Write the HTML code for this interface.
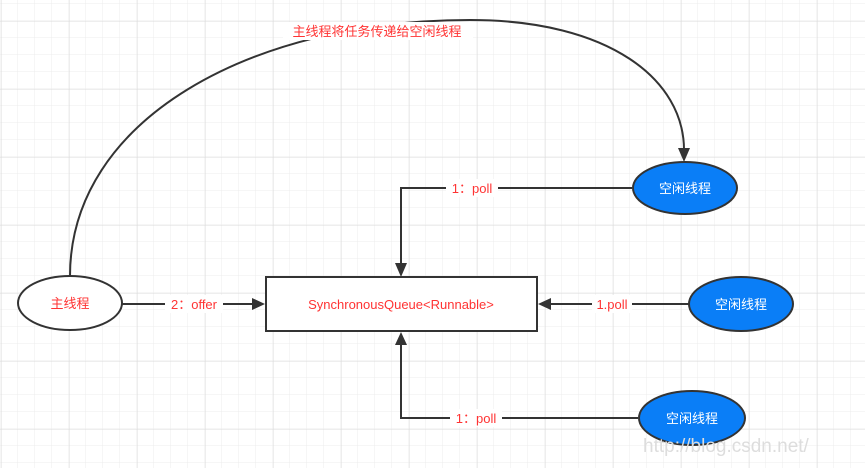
<!DOCTYPE html>
<html><head><meta charset="utf-8"><style>
html,body{margin:0;padding:0;background:#fff;}
svg{display:block;}
text{font-family:"Liberation Sans","Noto Sans CJK SC",sans-serif;}
</style></head><body>
<svg width="865" height="468" viewBox="0 0 865 468" xmlns="http://www.w3.org/2000/svg">
<defs>
<pattern id="g" x="1" y="4" width="17" height="17" patternUnits="userSpaceOnUse">
<path d="M17 0V17M0 17H17" stroke="#ececec" stroke-width="1" fill="none"/>
</pattern>
<pattern id="G" x="1" y="21" width="68" height="68" patternUnits="userSpaceOnUse">
<path d="M0 0V68M0 0H68" stroke="#dcdcdc" stroke-width="1" fill="none"/>
</pattern>
</defs>
<rect width="865" height="468" fill="url(#g)"/>
<rect width="865" height="468" fill="url(#G)"/>

<!-- big curve -->
<path d="M70 276 C70 120 250 20 470 20 C610 20 684 80 684 150" stroke="#333" stroke-width="2" fill="none"/>
<polygon points="678,148 690,148 684,162" fill="#333"/>
<rect x="283" y="22" width="190" height="18" fill="#fff"/>
<text x="377" y="36" font-size="13" fill="#ff3333" text-anchor="middle">主线程将任务传递给空闲线程</text>

<!-- connectors -->
<path d="M632 188H401V265" stroke="#333" stroke-width="2" fill="none"/>
<polygon points="395,263 407,263 401,277" fill="#333"/>
<path d="M689 304H550" stroke="#333" stroke-width="2" fill="none"/>
<polygon points="551,298 551,310 538,304" fill="#333"/>
<path d="M638 418H401V343" stroke="#333" stroke-width="2" fill="none"/>
<polygon points="395,345 407,345 401,332" fill="#333"/>
<path d="M122 304H253" stroke="#333" stroke-width="2" fill="none"/>
<polygon points="252,298 252,310 265,304" fill="#333"/>

<!-- labels -->
<rect x="446" y="179" width="52" height="18" fill="#fff"/>
<text x="472" y="193" font-size="13" fill="#ff3333" text-anchor="middle">1：poll</text>
<rect x="592" y="295" width="40" height="18" fill="#fff"/>
<text x="612" y="309" font-size="13" fill="#ff3333" text-anchor="middle">1.poll</text>
<rect x="450" y="409" width="52" height="18" fill="#fff"/>
<text x="476" y="423" font-size="13" fill="#ff3333" text-anchor="middle">1：poll</text>
<rect x="165" y="295" width="58" height="18" fill="#fff"/>
<text x="194" y="309" font-size="13" fill="#ff3333" text-anchor="middle">2：offer</text>

<!-- nodes -->
<rect x="266" y="277" width="271" height="54" fill="#fff" stroke="#333" stroke-width="2"/>
<text x="401" y="309" font-size="13" fill="#ff3333" text-anchor="middle">SynchronousQueue&lt;Runnable&gt;</text>

<ellipse cx="70" cy="303" rx="52" ry="27" fill="#fff" stroke="#333" stroke-width="2"/>
<text x="70" y="308" font-size="13" fill="#ff3333" text-anchor="middle">主线程</text>

<ellipse cx="685" cy="188" rx="52" ry="26" fill="#0a7ef7" stroke="#333" stroke-width="2"/>
<text x="685" y="193" font-size="13" fill="#fff" text-anchor="middle">空闲线程</text>
<ellipse cx="741" cy="304" rx="52" ry="27" fill="#0a7ef7" stroke="#333" stroke-width="2"/>
<text x="741" y="309" font-size="13" fill="#fff" text-anchor="middle">空闲线程</text>
<ellipse cx="692" cy="418" rx="53" ry="27" fill="#0a7ef7" stroke="#333" stroke-width="2"/>
<text x="692" y="423" font-size="13" fill="#fff" text-anchor="middle">空闲线程</text>

<text x="643" y="452" font-size="19" fill="#dddddd" font-family="Liberation Serif, serif">http://blog.csdn.net/</text>
</svg>
</body></html>
